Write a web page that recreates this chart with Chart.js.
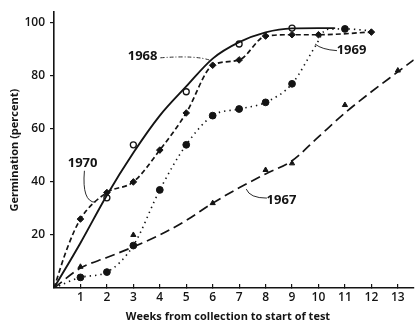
<!DOCTYPE html>
<html>
<head>
<meta charset="utf-8">
<script src="https://cdn.jsdelivr.net/npm/chart.js@4"></script>
<style>
  html, body { margin: 0; padding: 0; background: #fff; }
  #wrap { width: 419px; height: 324px; }
</style>
</head>
<body>
<div id="wrap"><canvas id="chart" width="419" height="324"></canvas></div>
<script>
// observed germination, by year
const weeks1968 = [2, 3, 5, 7, 9];
const germ1968 = [34, 54, 74, 92, 98];
const weeks1970 = [1, 2, 3, 4, 5, 6, 7, 8, 9, 10, 12];
const germ1970 = [26, 36, 40, 52, 66, 84, 86, 95, 95.5, 95.5, 96.5];
const weeks1969 = [1, 2, 3, 4, 5, 6, 7, 8, 9, 11];
const germ1969 = [4, 6, 16, 37, 54, 65, 67.5, 70, 77, 97.7];
const weeks1967 = [1, 3, 6, 8, 9, 11, 13];
const germ1967 = [8, 20, 32, 44.5, 47, 69, 82];

// fitted curves
const curveX1968 = [0, 1, 2, 3, 4, 5, 6, 7, 8, 9, 10, 10.6];
const curveY1968 = [0, 17, 35, 51, 65, 76, 86.5, 92.7, 96.4, 97.9, 98, 98];
const curveX1970 = [0, 0.5, 1, 2, 3, 4, 5, 6, 7, 8, 9, 10, 12];
const curveY1970 = [0, 15, 26, 36, 40, 52, 66, 84, 86, 95, 95.5, 95.5, 96.5];
const curveX1969 = [0, 1, 2, 3, 4, 5, 6, 7, 8, 9, 9.9, 10.3, 11, 12];
const curveY1969 = [0, 4, 6, 16, 37, 54, 65, 67.5, 70, 77, 91.5, 97.5, 97.7, 97];
const curveX1967 = [0, 1, 2, 3, 4, 5, 6, 7, 8, 9, 10, 11, 12, 13, 13.6];
const curveY1967 = [0, 7.5, 11.5, 15.5, 20, 25.5, 32, 37.8, 43, 48, 57, 66, 74, 81.5, 86];

const xTickValues = [1, 2, 3, 4, 5, 6, 7, 8, 9, 10, 11, 12, 13];
const yTickValues = [20, 40, 60, 80, 100];

const xTitle = "Weeks from collection to start of test";
const yTitle = "Germination (percent)";

const INK = "#141414";
const FONT = "'Open Sans', 'DejaVu Sans', sans-serif";

const pts = (xs, ys) => xs.map((x, i) => ({ x: x, y: ys[i] }));

function curve(xs, ys, dash, width) {
  return {
    type: "line",
    data: pts(xs, ys),
    borderColor: INK,
    borderWidth: width,
    borderDash: dash,
    borderCapStyle: dash.length ? "butt" : "round",
    cubicInterpolationMode: "monotone",
    pointRadius: 0,
    fill: false,
  };
}

function marks(xs, ys, style, radius, filled) {
  return {
    type: "scatter",
    data: pts(xs, ys),
    showLine: false,
    pointStyle: style,
    pointRadius: radius,
    pointBorderWidth: filled ? 1 : 1.3,
    pointBorderColor: INK,
    pointBackgroundColor: filled ? INK : "#fff",
  };
}

// year labels with their leader lines, in data units
const yearLabels = [
  { text: "1968", at: [3.35, 87.2], from: [4.02, 86.8], ctrl: [5.4, 87.8], to: [5.92, 85.8], dash: [4, 2, 1, 2] },
  { text: "1970", at: [1.08, 47], from: [1.15, 44.2], ctrl: [1.05, 32.6], to: [1.56, 32.3], dash: [] },
  { text: "1969", at: [11.25, 89.5], from: [10.7, 89.5], ctrl: [10.12, 89.9], to: [9.87, 92], dash: [] },
  { text: "1967", at: [8.6, 33.2], from: [8.05, 33.9], ctrl: [7.4, 33.9], to: [7.27, 37.3], dash: [] },
];

const labelPlugin = {
  id: "yearLabels",
  afterDatasetsDraw(chart) {
    const { ctx, scales } = chart;
    const px = (p) => [scales.x.getPixelForValue(p[0]), scales.y.getPixelForValue(p[1])];
    ctx.save();
    ctx.fillStyle = INK;
    ctx.strokeStyle = INK;
    ctx.font = "bold 13px " + FONT;
    ctx.textAlign = "center";
    ctx.textBaseline = "middle";
    yearLabels.forEach((l) => {
      const a = px(l.at), f = px(l.from), c = px(l.ctrl), t = px(l.to);
      ctx.fillText(l.text, a[0], a[1]);
      ctx.lineWidth = 0.9;
      ctx.setLineDash(l.dash);
      ctx.beginPath();
      ctx.moveTo(f[0], f[1]);
      ctx.quadraticCurveTo(c[0], c[1], t[0], t[1]);
      ctx.stroke();
    });
    ctx.setLineDash([]);
    // x axis title
    const area = chart.chartArea;
    ctx.font = "bold 11px " + FONT;
    ctx.fillText(xTitle, 228, 317);
    ctx.restore();
  },
};

new Chart(document.getElementById("chart"), {
  type: "scatter",
  data: {
    datasets: [
      curve(curveX1968, curveY1968, [], 1.9),
      curve(curveX1970, curveY1970, [5, 3], 1.7),
      curve(curveX1969, curveY1969, [1.4, 4], 1.6),
      curve(curveX1967, curveY1967, [10, 5], 1.7),
      marks(weeks1968, germ1968, "circle", 3, false),
      marks(weeks1970, germ1970, "rectRot", 3.3, true),
      marks(weeks1969, germ1969, "circle", 3.4, true),
      marks(weeks1967, germ1967, "triangle", 3, true),
    ],
  },
  options: {
    responsive: false,
    animation: false,
    events: [],
    layout: { padding: { top: 9, right: 0, left: 0, bottom: 0 } },
    plugins: { legend: { display: false }, tooltip: { enabled: false } },
    scales: {
      x: {
        type: "linear",
        min: 0,
        max: 13.6,
        afterBuildTicks: (s) => { s.ticks = xTickValues.map((v) => ({ value: v })); },
        afterFit: (s) => { s.height = 36; },
        grid: { drawOnChartArea: false, drawTicks: true, tickLength: -4, color: INK, lineWidth: 1.2 },
        border: { display: true, color: INK, width: 1.6 },
        ticks: { color: INK, padding: 6, font: { family: FONT, size: 12, weight: "600" }, maxRotation: 0 },
      },
      y: {
        type: "linear",
        min: 0,
        max: 104,
        afterBuildTicks: (s) => { s.ticks = yTickValues.map((v) => ({ value: v })); },
        afterFit: (s) => { s.width = 54; },
        grid: { drawOnChartArea: false, drawTicks: true, tickLength: 4, color: INK, lineWidth: 1.2 },
        border: { display: true, color: INK, width: 1.6 },
        ticks: { color: INK, padding: 5, font: { family: FONT, size: 12, weight: "600" } },
        title: { display: true, text: yTitle, color: INK, padding: { top: 8, bottom: 0 }, font: { family: FONT, size: 11, weight: "bold" } },
      },
    },
  },
  plugins: [labelPlugin],
});
</script>
</body>
</html>
